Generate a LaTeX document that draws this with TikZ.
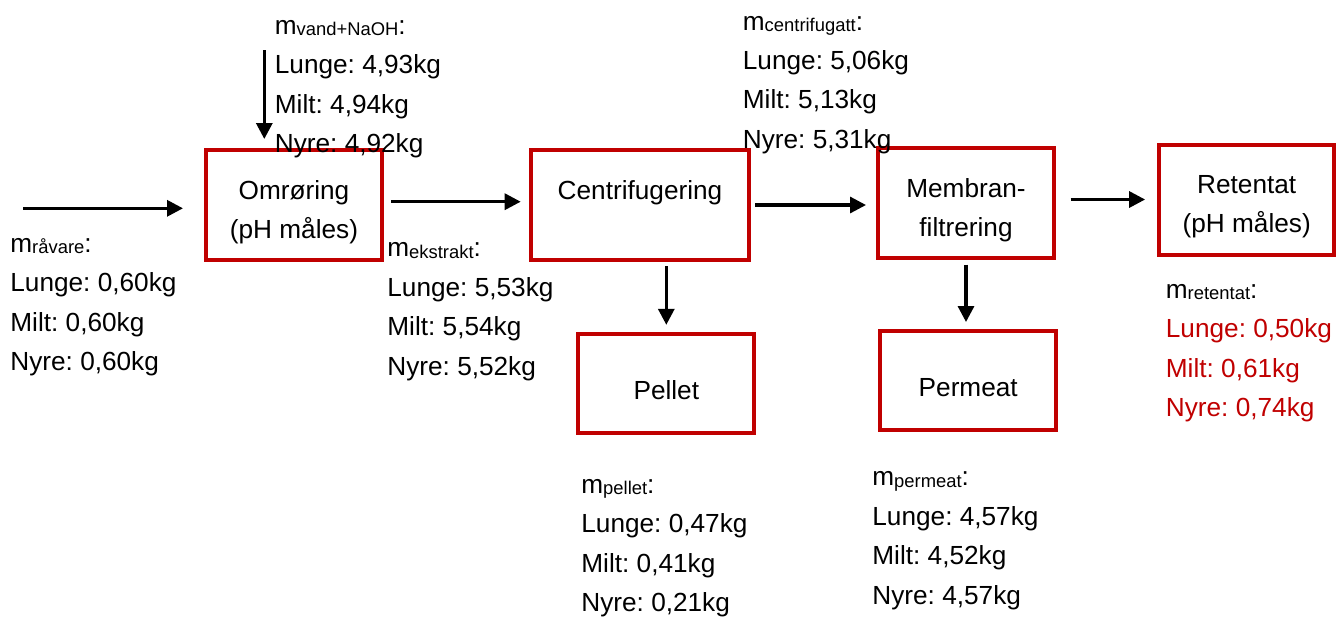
\documentclass[tikz,border=0pt]{standalone}
\usepackage{fontspec}
\setmainfont{Liberation Sans}
\usetikzlibrary{arrows.meta}
\frenchspacing
\definecolor{boxred}{RGB}{192, 0, 0}
\newcommand{\msub}[1]{m\raisebox{-0.6pt}{\fontsize{9.2}{9.2}\selectfont #1}:}
\tikzset{
    font=\fontsize{13.1}{19.7}\selectfont,
    procbox/.style={rectangle, draw=boxred, line width=2pt, minimum width=88pt, minimum height=55pt},
    outbox/.style={procbox, minimum height=49.5pt},
    boxtext/.style={align=center, yshift=-3.5pt},
    massdata/.style={anchor=base west, align=left, inner sep=0pt},
    arrow/.style={-{Triangle[length=8pt, width=8pt]}, line width=1.6pt, color=black}
}

\begin{document}
\begin{tikzpicture}[x=0.5pt, y=-0.5pt]

    \useasboundingbox (0,0) rectangle (1336,617);

    % Process boxes
    \node (omr) [procbox, label={[boxtext]center:Omrøring\\(pH måles)}] at (294,205) {};
    \node (cen) [procbox, minimum width=108.7pt, label={[boxtext, yshift=9.4pt]center:Centrifugering}] at (640,205) {};
    \node (mem) [procbox, label={[boxtext]center:Membran-\\filtrering}] at (966,203) {};
    \node (ret) [procbox, minimum width=87.3pt, label={[boxtext]center:Retentat\\(pH måles)}] at (1246.7,199.5) {};
    \node (pel) [outbox, label={[boxtext]center:Pellet}] at (666.3,383) {};
    \node (per) [outbox, label={[boxtext]center:Permeat}] at (968.2,380.8) {};

    % Free ends
    \coordinate (feed) at (23,208.3);
    \coordinate (water) at (264.3,50);

    % Arrows
    \draw [arrow, shorten >=10.5pt] (feed) -- (feed -| omr.west);
    \draw [arrow, shorten >=4.5pt] (water) -- (water |- omr.north);
    \draw [arrow, shorten <=3.7pt, shorten >=4.3pt] ([yshift=1.65pt]omr.east) -- ([yshift=1.65pt]cen.west);
    \draw [arrow, shorten <=2.15pt, shorten >=5pt] (cen.east) -- (cen.east -| mem.west);
    \draw [arrow, shorten <=7.35pt, shorten >=6.15pt] (ret.west -| mem.east) -- (ret.west);
    \draw [arrow, shorten <=2.15pt, shorten >=3.35pt] (pel.north |- cen.south) -- (pel.north);
    \draw [arrow, shorten <=2.25pt, shorten >=3.65pt] (mem.south) -- (mem.south |- per.north);

    % Mass data (placed at the baseline of the last line)
    \node (mraw) [massdata] at (10,370.5) {\msub{råvare}\\Lunge: 0,60kg\\Milt: 0,60kg\\Nyre: 0,60kg};
    \node (mwater) [massdata] at (274.5,152.7) {\msub{vand+NaOH}\\Lunge: 4,93kg\\Milt: 4,94kg\\Nyre: 4,92kg};
    \node (mext) [massdata] at (387,375) {\msub{ekstrakt}\\Lunge: 5,53kg\\Milt: 5,54kg\\Nyre: 5,52kg};
    \node (mcen) [massdata] at (742.5,148.3) {\msub{centrifugatt}\\Lunge: 5,06kg\\Milt: 5,13kg\\Nyre: 5,31kg};
    \node (mpel) [massdata] at (581,611.7) {\msub{pellet}\\Lunge: 0,47kg\\Milt: 0,41kg\\Nyre: 0,21kg};
    \node (mper) [massdata] at (872,604) {\msub{permeat}\\Lunge: 4,57kg\\Milt: 4,52kg\\Nyre: 4,57kg};
    \node (mret) [massdata] at (1165.5,416.7) {\msub{retentat}\\\textcolor{boxred}{Lunge: 0,50kg}\\\textcolor{boxred}{Milt: 0,61kg}\\\textcolor{boxred}{Nyre: 0,74kg}};

\end{tikzpicture}
\end{document}
